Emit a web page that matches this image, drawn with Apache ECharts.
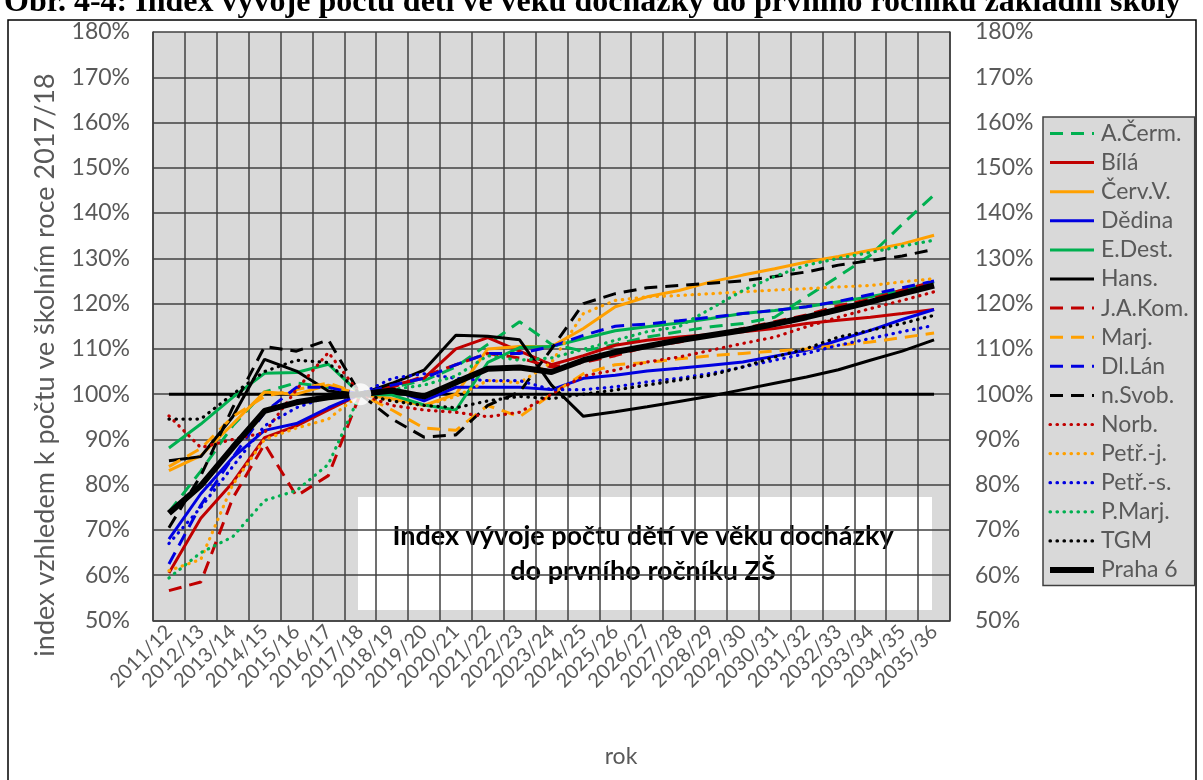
<!DOCTYPE html>
<html>
<head>
<meta charset="utf-8">
<script src="https://cdn.jsdelivr.net/npm/echarts@6/dist/echarts.min.js"></script>
<style>
  html, body { margin: 0; padding: 0; background: #fff; }
  #chart { width: 1203px; height: 780px; }
</style>
</head>
<body>
<div id="chart"></div>
<script>
// školní roky
const categories = ['2011/12', '2012/13', '2013/14', '2014/15', '2015/16', '2016/17', '2017/18', '2018/19',
  '2019/20', '2020/21', '2021/22', '2022/23', '2023/24', '2024/25', '2025/26', '2026/27', '2027/28',
  '2028/29', '2029/30', '2030/31', '2031/32', '2032/33', '2033/34', '2034/35', '2035/36']

// index v % (2017/18 = 100)
const aCerm = [74, 83, 93, 100.5, 102.5, 101.5, 100, 101.5, 103, 106, 111, 116, 111, 109.5, 111, 112.6, 113.8, 114.9, 115.6, 117, 121.5, 126, 130.7, 137.5, 144]
const bila = [60.5, 72.6, 80.5, 90.4, 93, 96.5, 100, 102, 103.5, 110, 112.5, 109.5, 106.5, 108.5, 110.8, 111.9, 112.6, 113.2, 113.8, 114.5, 115.6, 116.3, 117, 117.8, 118.7]
const cervV = [83.1, 86.4, 93.4, 100.5, 100, 102, 100, 99, 97.5, 100, 110, 110.5, 110.5, 114.5, 119.3, 121.5, 122.9, 124.8, 126.3, 127.7, 129.2, 130.4, 131.8, 133.2, 135.1]
const dedina = [68, 78, 86, 92, 93.5, 97, 100, 101, 98.5, 101.5, 101.5, 101.5, 101, 103.5, 104.2, 105.1, 105.7, 106.4, 107.1, 108.4, 109.7, 111.9, 114.1, 116.5, 118.7]
const eDest = [88.1, 93.4, 99.3, 104.6, 104.8, 106.6, 100, 99.8, 97.6, 96.5, 107, 110.3, 110.5, 112.3, 114, 114.9, 115.7, 116.7, 117.8, 118.5, 119.3, 120.4, 121.5, 122.9, 124.8]
const hans = [85.3, 86.2, 95, 107.7, 105.1, 100.7, 100, 102.4, 105.3, 113, 112.8, 112, 102, 95.1, 96.1, 97.2, 98.4, 99.6, 101, 102.4, 103.8, 105.4, 107.5, 109.5, 112]
const jaKom = [56.6, 58.5, 77, 89, 77.5, 82, 100, 101.5, 104, 106.5, 109, 108, 106, 107, 108.5, 110.5, 111.5, 113, 114.5, 116, 117.5, 119.5, 121, 123, 124.8]
const marj = [84, 88, 95, 99.5, 101, 102.5, 100, 96.5, 92.5, 92, 97.5, 95, 100, 104.5, 106.5, 107, 107.8, 108.5, 109, 109.5, 110, 110.8, 111.5, 112.5, 113.5]
const dlLan = [62.5, 75.5, 86, 96, 101.5, 101.5, 100, 102, 103.5, 106.5, 109, 109, 110.5, 113, 115, 115.5, 116.2, 117, 117.8, 118.5, 119.3, 120.5, 122, 123.5, 125]
const nSvob = [70.5, 82, 97, 110.5, 109.5, 112, 100, 94.5, 90.5, 91, 97.5, 100.5, 110, 120, 122.2, 123.5, 124, 124.5, 125, 126, 127, 128.5, 129.5, 130.5, 132]
const norb = [95.2, 88.2, 90, 91.5, 101, 109.2, 100, 97.5, 96.5, 96, 95, 96, 100, 104, 105.3, 107.1, 108.2, 109.7, 111.2, 112.6, 114.9, 117, 118.9, 120.7, 122.6]
const petrJ = [61, 63.5, 80, 90, 92.5, 94.5, 100, 98.5, 97.5, 99.5, 103, 102.5, 107, 117.8, 120.7, 121.5, 121.8, 122.2, 122.6, 123, 123.3, 123.7, 124, 124.8, 125.5]
const petrS = [67, 75, 84, 93, 97, 99.5, 100, 103.5, 104.5, 103.5, 103, 103, 101, 101, 101.6, 102.7, 103.5, 104.6, 106, 107.5, 109, 110.8, 112.3, 113.8, 115.2]
const pMarj = [59.4, 65, 68.5, 76.5, 78.7, 84.5, 100, 101, 102, 104, 108.5, 107.5, 108, 109.9, 111.9, 113.8, 114.9, 118.9, 122.9, 126, 128.5, 130, 131.3, 132.7, 134]
const tgm = [94.5, 94.5, 100, 105, 107.5, 107, 100, 98.5, 97.5, 97, 98.5, 99.5, 99, 100, 100.9, 102, 103.1, 104.2, 106, 108.2, 110.1, 112.6, 114.1, 115.6, 117.4]
const praha6 = [73.7, 79.8, 88.2, 96.3, 98.2, 99.3, 100, 100.8, 99.5, 102.6, 105.6, 105.9, 104.9, 107.5, 109.3, 110.6, 111.9, 113, 114.1, 115.5, 117, 118.7, 120.4, 122.2, 124]
// základní linie 100 % a bod výchozího roku
const baseLine = categories.map(() => 100)
const basePoint = [['2017/18', 100]]

const yTicks = { min: 50, max: 180, interval: 10 }

const FONT = 'Lato, "Noto Sans", sans-serif'
const GRAY = '#595959'
const GREEN = '#00b050'
const RED = '#c00000'
const ORANGE = '#ffa000'
const BLUE = '#0000e0'
const BLACK = '#000000'

const DASH = [13, 8]
const DOT = [0.5, 6.5]

const line = (name, data, color, type, width = 3) => ({
  name,
  type: 'line',
  data,
  symbol: 'none',
  z: 3,
  lineStyle: { color, type, width, cap: type === DOT ? 'round' : 'butt' },
  itemStyle: { color },
  emphasis: { disabled: true }
})

const series = [
  {
    type: 'line', data: baseLine, symbol: 'none', silent: true, z: 2,
    lineStyle: { color: BLACK, width: 3 }
  },
  line('A.Čerm.', aCerm, GREEN, DASH),
  line('Bílá', bila, RED, 'solid'),
  line('Červ.V.', cervV, ORANGE, 'solid'),
  line('Dědina', dedina, BLUE, 'solid'),
  line('E.Dest.', eDest, GREEN, 'solid'),
  line('Hans.', hans, BLACK, 'solid'),
  line('J.A.Kom.', jaKom, RED, DASH),
  line('Marj.', marj, ORANGE, DASH),
  line('Dl.Lán', dlLan, BLUE, DASH),
  line('n.Svob.', nSvob, BLACK, DASH),
  line('Norb.', norb, RED, DOT, 3.2),
  line('Petř.-j.', petrJ, ORANGE, DOT, 3.2),
  line('Petř.-s.', petrS, BLUE, DOT, 3.2),
  line('P.Marj.', pMarj, GREEN, DOT, 3.2),
  line('TGM', tgm, BLACK, DOT, 3.2),
  line('Praha 6', praha6, BLACK, 'solid', 6),
  {
    type: 'scatter', data: basePoint, symbol: 'circle', symbolSize: 22, silent: true, z: 4,
    itemStyle: { color: '#ffffff' }
  }
]

const legendNames = series.filter(s => s.name).map(s => s.name)

const chart = echarts.init(document.getElementById('chart'), null, { renderer: 'canvas' })

const option = {
  animation: false,
  backgroundColor: '#ffffff',
  textStyle: { fontFamily: FONT },
  grid: {
    left: 153, right: 253, top: 32, bottom: 159.5,
    show: true, backgroundColor: '#d9d9d9', borderWidth: 0
  },
  legend: {
    data: legendNames,
    orient: 'vertical',
    left: 1043, top: 117,
    itemWidth: 44, itemHeight: 14, itemGap: 6.1,
    padding: [5, 6, 4, 4],
    backgroundColor: '#d9d9d9',
    borderColor: '#404040', borderWidth: 1.5,
    itemStyle: { opacity: 0 },
    lineStyle: { width: 'inherit' },
    textStyle: { color: GRAY, fontSize: 23, lineHeight: 20, fontFamily: FONT, padding: [0, 0, 0, 2] },
    selectedMode: false
  },
  xAxis: {
    type: 'category',
    data: categories,
    boundaryGap: true,
    axisLine: { show: true, lineStyle: { color: '#404040', width: 1.5 } },
    axisTick: { show: false },
    splitLine: { show: true, interval: 0, lineStyle: { color: '#404040', width: 1.5 } },
    axisLabel: { interval: 0, rotate: 45, color: GRAY, fontSize: 20, margin: 8, fontFamily: FONT }
  },
  yAxis: [
    {
      type: 'value', position: 'left', ...yTicks,
      axisLine: { show: true, lineStyle: { color: '#404040', width: 1.5 } },
      axisTick: { show: false },
      splitLine: { show: true, lineStyle: { color: '#404040', width: 1.5 } },
      axisLabel: { formatter: '{value}%', color: GRAY, fontSize: 23, margin: 23, fontFamily: FONT }
    },
    {
      type: 'value', position: 'right', ...yTicks,
      axisLine: { show: true, lineStyle: { color: '#404040', width: 1.5 } },
      axisTick: { show: false },
      splitLine: { show: false },
      axisLabel: { formatter: '{value}%', color: GRAY, fontSize: 23, margin: 25, fontFamily: FONT }
    }
  ],
  series,
  graphic: [
    {
      type: 'rect', silent: true, z: 0,
      shape: { x: 8, y: 20, width: 1188, height: 790 },
      style: { fill: 'none', stroke: '#000', lineWidth: 1.5 }
    },
    {
      type: 'text', left: 4, top: -13, silent: true,
      style: {
        text: 'Obr. 4-4: Index vývoje počtu dětí ve věku docházky do prvního ročníku základní školy',
        font: 'bold 32px "Liberation Serif", serif', fill: '#000'
      }
    },
    {
      type: 'text', x: 45, y: 365, rotation: Math.PI / 2, silent: true,
      style: {
        text: 'index vzhledem k počtu ve školním roce 2017/18',
        fontSize: 27, fontFamily: FONT, fill: GRAY, align: 'center', verticalAlign: 'middle'
      }
    },
    {
      type: 'text', x: 621, y: 757, silent: true,
      style: { text: 'rok', fontSize: 23, fontFamily: FONT, fill: GRAY, align: 'center', verticalAlign: 'middle' }
    },
    {
      type: 'group', z: 100,
      children: [
        {
          type: 'rect', silent: true,
          shape: { x: 358, y: 497, width: 574, height: 113 },
          style: { fill: '#ffffff' }
        },
        {
          type: 'text', x: 643, y: 554, silent: true,
          style: {
            text: 'Index vývoje počtu dětí ve věku docházky\ndo prvního ročníku ZŠ',
            fontSize: 27, fontWeight: 'bold', fontFamily: FONT, fill: '#000',
            align: 'center', verticalAlign: 'middle', lineHeight: 35
          }
        }
      ]
    }
  ]
}

chart.setOption(option)
</script>
</body>
</html>
